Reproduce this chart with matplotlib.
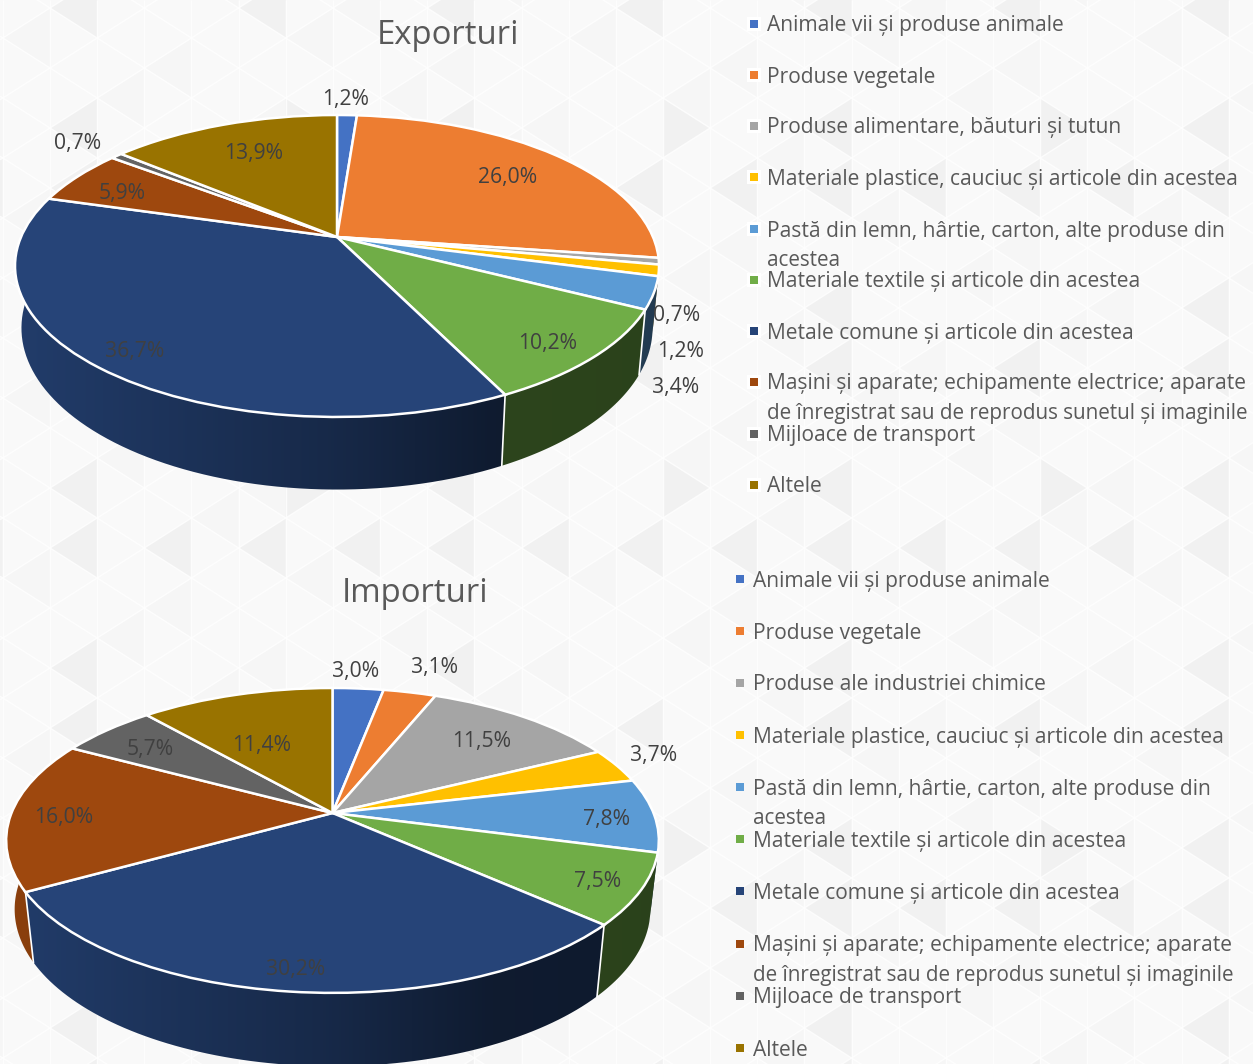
import numpy as np
import matplotlib
matplotlib.use('Agg')
import matplotlib.pyplot as plt
from matplotlib.transforms import Transform
from matplotlib.patches import Polygon
from matplotlib.collections import LineCollection

plt.rcParams['font.family'] = ['Open Sans', 'DejaVu Sans']

# date
legend_exp = ['Animale vii și produse animale', 'Produse vegetale',
              'Produse alimentare, băuturi și tutun',
              'Materiale plastice, cauciuc și articole din acestea',
              'Pastă din lemn, hârtie, carton, alte produse din\nacestea',
              'Materiale textile și articole din acestea',
              'Metale comune și articole din acestea',
              'Mașini și aparate; echipamente electrice; aparate\nde înregistrat sau de reprodus sunetul și imaginile',
              'Mijloace de transport', 'Altele']
legend_imp = list(legend_exp)
legend_imp[2] = 'Produse ale industriei chimice'

val_exp = [1.2, 26.0, 0.7, 1.2, 3.4, 10.2, 36.7, 5.9, 0.7, 13.9]
val_imp = [3.0, 3.1, 11.5, 3.7, 7.8, 7.5, 30.2, 16.0, 5.7, 11.4]

culori = ['#4472c4', '#ed7d31', '#a5a5a5', '#ffc000', '#5b9bd5',
          '#70ad47', '#264478', '#9e480e', '#636363', '#997300']

# pozitii (pixeli)
lab_exp = [(346, 98), (508, 176), (677, 314), (681, 350), (676, 386),
           (548, 342), (135, 350), (122, 192), (78, 142), (254, 152)]
lab_imp = [(356, 670), (434, 666), (482, 740), (654, 754), (606, 818),
           (598, 880), (296, 968), (64, 816), (150, 748), (262, 743)]
leg_y_exp = [24, 75, 126, 177, 229, 280, 331, 382, 434, 485]
leg_y_imp = [579, 631, 683, 735, 787, 839, 891, 944, 996, 1048]


class Persp(Transform):
    # cerc unitate -> elipsa in perspectiva, in pixeli
    input_dims = 2
    output_dims = 2
    is_affine = False

    def __init__(self, cx, cy, a, k, p, sx=1.0, sy=1.0, dy=0.0):
        super().__init__()
        self.par = (cx, cy, a, k, p, sx, sy, dy)

    def transform_non_affine(self, values):
        cx, cy, a, k, p, sx, sy, dy = self.par
        values = np.asarray(values, float)
        w = 1 + p * values[:, 1]
        return np.column_stack([cx + sx * a * values[:, 0] / w,
                                cy + dy - sy * k * values[:, 1] / w])


def umbra(f):
    return np.interp(f, [0, 0.5, 0.75, 1], [0.88, 0.6, 0.4, 0.38])


def pie3d(ax, val, par, perete):
    top = Persp(*par)
    jos = Persp(*par, *perete)
    cx, a = par[0], par[2]
    frac = np.cumsum([0] + val) / np.sum(val)
    # peretii, intai cei din spate
    ordine = np.argsort(-np.cos(np.pi * (frac[:-1] + frac[1:])))
    for rang, i in enumerate(ordine):
        t = 2 * np.pi * np.linspace(frac[i], frac[i + 1], 80)
        arc = np.column_stack([np.sin(t), np.cos(t)])
        p1 = top.transform_non_affine(arc)
        p2 = jos.transform_non_affine(arc)
        poly = Polygon(np.vstack([p1, p2[::-1]]), closed=True, fc='none', ec='none')
        ax.add_patch(poly)
        x0, x1 = min(p1[:, 0].min(), p2[:, 0].min()), max(p1[:, 0].max(), p2[:, 0].max())
        y0, y1 = min(p1[:, 1].min(), p2[:, 1].min()), max(p1[:, 1].max(), p2[:, 1].max())
        xs = np.linspace(x0, x1, 128)
        s = umbra((xs - (cx - a)) / (2 * a))[:, None]
        rgb = np.array(matplotlib.colors.to_rgb(culori[i]))[None, :] * s
        im = ax.imshow(rgb[None, :, :], extent=(x0, x1, y1, y0), aspect='auto',
                       interpolation='bilinear', zorder=2 + rang * 0.01)
        im.set_clip_path(poly)
    # muchii verticale albe
    for f in frac[:-1]:
        th = 2 * np.pi * f
        if np.cos(th) < -0.35:
            pt = np.array([[np.sin(th), np.cos(th)]])
            a1 = top.transform_non_affine(pt)[0]
            a2 = jos.transform_non_affine(pt)[0]
            ax.plot([a1[0], a2[0]], [a1[1], a2[1]], color='white', lw=1.2, zorder=3)
    # fata de sus
    wedges, _ = ax.pie(val, colors=culori, startangle=90, counterclock=False, frame=True,
                       wedgeprops=dict(edgecolor='white', linewidth=1.8))
    for w in wedges:
        w.set_transform(top + ax.transData)
        w.set_zorder(4)


def fundal(ax):
    # modelul de triunghiuri din fundal
    ax.add_patch(plt.Rectangle((0, 0), 1253, 1064, fc='#f9f9f9', ec='none', zorder=0))
    dx, dy, x0, y0 = 47.15, 60.0, 50.0, 8.0
    for k in range(-2, 28):
        xk = x0 + k * dx
        for j in range(-2, 20):
            y1 = y0 + j * dy + (k % 2) * dy / 2
            ym = y1 + dy / 2
            stanga = (k % 4 == 1 and j % 3 == 2) or (k % 8 == 1 and j % 3 == 1) or (k % 4 == 3 and j % 6 == 2)
            dreapta = k % 8 == 5 and j % 6 == 1
            if stanga:
                ax.fill([xk, xk, xk - dx], [y1, y1 + dy, ym], color='#f1f1f1', lw=0, zorder=0.5)
            elif (k + j) % 3 == 0:
                ax.fill([xk, xk, xk - dx], [y1, y1 + dy, ym], color='#f6f6f6', lw=0, zorder=0.4)
            if dreapta:
                ax.fill([xk, xk, xk + dx], [y1, y1 + dy, ym], color='#f1f1f1', lw=0, zorder=0.5)
    seg = [[(x0 + k * dx, 0), (x0 + k * dx, 1064)] for k in range(-2, 28)]
    panta = dy / 2 / dx
    for i in range(-30, 50):
        ya = y0 + i * dy - x0 * panta
        yb = y0 + i * dy + x0 * panta
        seg.append([(0, ya), (1253, ya + 1253 * panta)])
        seg.append([(0, yb), (1253, yb - 1253 * panta)])
    ax.add_collection(LineCollection(seg, colors='white', linewidths=1.0, alpha=0.8, zorder=0.8))


def legenda(ax, nume, ys, xm, xt, halo):
    for n, y, c in zip(nume, ys, culori):
        if halo:
            ax.scatter([xm], [y], marker='s', s=88, color='white', linewidths=0, zorder=4.9)
        ax.scatter([xm], [y], marker='s', s=33, color=c, linewidths=0, zorder=5)
        for j, r in enumerate(n.split('\n')):
            # randul al doilea e mai strans, altfel iese din poza
            ax.text(xt, y + 2 + j * 29, r, fontsize=15.1 - 0.25 * j, color='#595959',
                    va='center', ha='left', zorder=6)


def etichete(ax, val, poz):
    for v, (x, y) in zip(val, poz):
        s = f'{v:.1f}%'.replace('.', ',')
        ax.text(x, y + 2, s, fontsize=15.2, color='#404040', ha='center', va='center', zorder=6)


fig = plt.figure(figsize=(12.53, 10.64), dpi=100)
ax = fig.add_axes([0, 0, 1, 1])

fundal(ax)
pie3d(ax, val_exp, (337, 237, 316, 145.4, 0.192), (0.98, 1.07, 60))
pie3d(ax, val_imp, (332.5, 813, 321, 147.5, 0.18), (0.974, 1.03, 68))
legenda(ax, legend_exp, leg_y_exp, 754, 767, True)
legenda(ax, legend_imp, leg_y_imp, 740, 753, False)
etichete(ax, val_exp, lab_exp)
etichete(ax, val_imp, lab_imp)
ax.text(448, 35, 'Exporturi', fontsize=23.7, color='#595959', ha='center', va='center', zorder=6)
ax.text(415, 594, 'Importuri', fontsize=23.7, color='#595959', ha='center', va='center', zorder=6)

ax.set_aspect('auto')
ax.set_xlim(0, 1253)
ax.set_ylim(1064, 0)
ax.axis('off')
fig.savefig('out.png', dpi=100)
